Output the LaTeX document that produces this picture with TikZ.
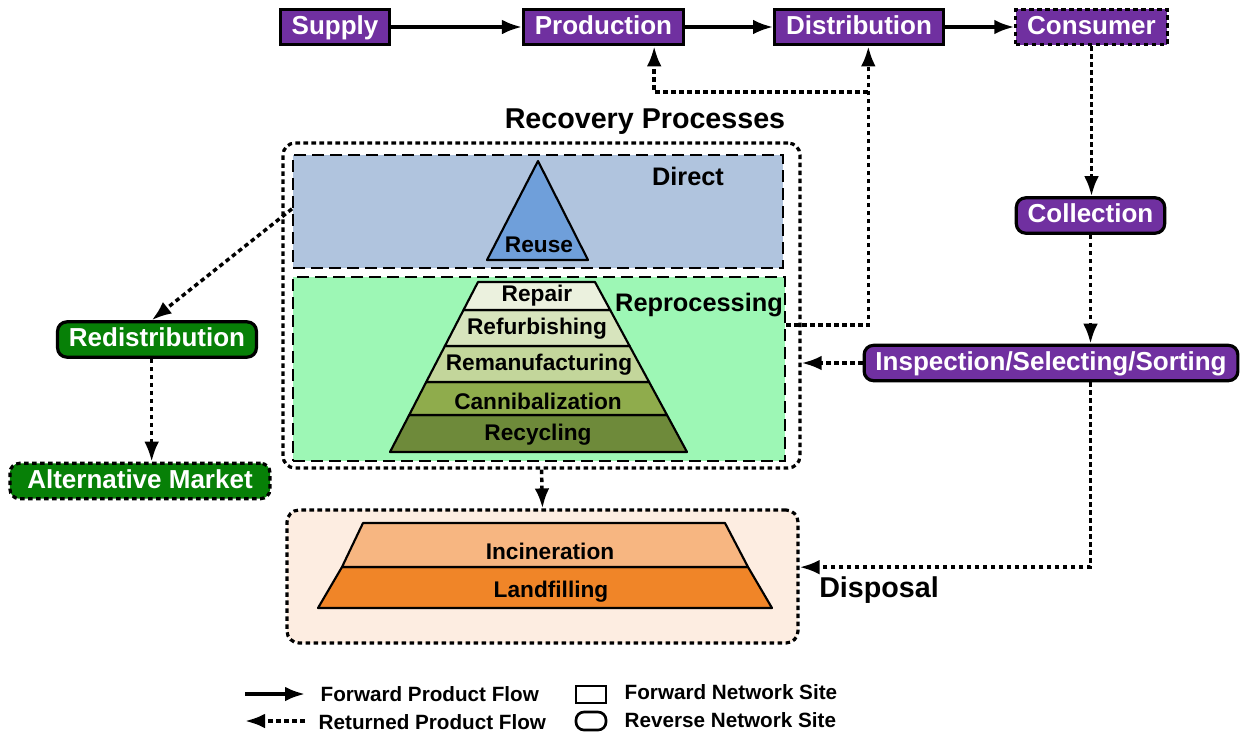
\documentclass[tikz,border=0pt]{standalone}
\usepackage{fontspec}
\setmainfont{Liberation Sans}
\usetikzlibrary{arrows.meta,fit,positioning}

\definecolor{sitepurple}{HTML}{7030A0}
\definecolor{sitegreen}{HTML}{078007}
\definecolor{directfill}{HTML}{B0C4DE}
\definecolor{reusefill}{HTML}{6F9FDA}
\definecolor{reprocfill}{HTML}{9DF7B5}
\definecolor{disposalfill}{HTML}{FDEDE1}
\definecolor{incinfill}{HTML}{F7B681}
\definecolor{landfill}{HTML}{F08528}
\definecolor{layerA}{HTML}{EBF1DE}
\definecolor{layerB}{HTML}{D7E4BD}
\definecolor{layerC}{HTML}{C3D69B}
\definecolor{layerD}{HTML}{8FAC4C}
\definecolor{layerE}{HTML}{6E8A3A}

\begin{document}
\begin{tikzpicture}[x=0.75pt,y=-0.75pt,
        >={Latex[length=15pt,width=11pt]},
        site/.style={draw=black,line width=2.4pt,text=white,
            font=\fontsize{19.5}{20}\selectfont\bfseries,
            inner xsep=8.5pt,inner ysep=5pt,text height=13.5pt,text depth=3pt},
        fwd site/.style={site,fill=sitepurple},
        rev site/.style={site,rounded corners=7pt},
        dotted line/.style={dash pattern=on 3.4pt off 2.6pt},
        fwd flow/.style={->,line width=2.6pt},
        ret flow/.style={->,line width=2.6pt,dotted line},
        zone/.style={draw=black,line width=1.5pt,dash pattern=on 9pt off 4.5pt,inner sep=0pt},
        group/.style={draw=black,line width=2.4pt,dotted line,rounded corners=9pt,inner sep=0pt},
        layer/.style={draw=black,line width=1.6pt,line join=round},
        title/.style={font=\fontsize{21.5}{22}\selectfont\bfseries},
        zone label/.style={font=\fontsize{19}{20}\selectfont\bfseries},
        layer label/.style={font=\fontsize{17}{18}\selectfont\bfseries},
        key label/.style={font=\fontsize{15.5}{16}\selectfont\bfseries,anchor=west}]

        \useasboundingbox (0,0) rectangle (1249,733);

        % Define vertices
        \node[fwd site] (supply) at (335,27) {Supply};
        \node[fwd site] (production) at (603.5,27) {Production};
        \node[fwd site] (distribution) at (859,27) {Distribution};
        \node[fwd site,dotted line] (consumer) at (1091.5,27) {Consumer};
        \node[rev site,fill=sitepurple] (collection) at (1090.5,215.5) {Collection};
        \node[rev site,fill=sitepurple] (inspection) at (1051,363) {Inspection/Selecting/Sorting};
        \node[rev site,fill=sitegreen] (redistribution) at (157,339.5) {Redistribution};
        \node[rev site,fill=sitegreen,dotted line,inner xsep=13pt] (altmarket) at (140,481) {Alternative Market};

        % Recovery processes
        \node[group,fit={(283,143) (800,468)}] (recovery) {};
        \node[title] (recoverylbl) at (645,122) {Recovery Processes};
        \node[zone,fill=directfill,fit={(293,155) (783,268)}] (direct) {};
        \node[zone label] (directlbl) at (688,176) {Direct};
        \draw[layer,fill=reusefill] (538,161) -- (588,260) -- (487,260) -- cycle;
        \node[layer label] (reuse) at (539,245) {Reuse};

        \node[zone,fill=reprocfill,fit={(293,277) (785,461)}] (reprocessing) {};
        \node[zone label] (reproclbl) at (699,305) {Reprocessing};
        \draw[layer,fill=layerE] (409.2,415) -- (667,415) -- (687,452) -- (390,452) -- cycle;
        \draw[layer,fill=layerD] (426.2,382) -- (649.1,382) -- (667,415) -- (409.2,415) -- cycle;
        \draw[layer,fill=layerC] (444.9,346) -- (629.6,346) -- (649.1,382) -- (426.2,382) -- cycle;
        \draw[layer,fill=layerB] (463.5,310) -- (610.2,310) -- (629.6,346) -- (444.9,346) -- cycle;
        \draw[layer,fill=layerA] (478,282) -- (595,282) -- (610.2,310) -- (463.5,310) -- cycle;
        \node[layer label] (repair) at (537,296) {Repair};
        \node[layer label] (refurbishing) at (537,329) {Refurbishing};
        \node[layer label] (reman) at (539,365) {Remanufacturing};
        \node[layer label] (cannibal) at (538,401) {Cannibalization};
        \node[layer label] (recycling) at (538,435) {Recycling};

        % Disposal
        \node[group,fill=disposalfill,fit={(287,510) (798,643)}] (disposal) {};
        \node[title] (disposallbl) at (879,590) {Disposal};
        \draw[layer,fill=landfill] (342,567) -- (748,567) -- (772,608) -- (318,608) -- cycle;
        \draw[layer,fill=incinfill] (363,523) -- (725,523) -- (748,567) -- (342,567) -- cycle;
        \node[layer label] (incineration) at (550,551) {Incineration};
        \node[layer label] (landfilling) at (551,592) {Landfilling};

        % Draw edges
        \draw[fwd flow] (supply) -- (production);
        \draw[fwd flow] (production) -- (distribution);
        \draw[fwd flow] (distribution) -- (consumer);
        \draw[ret flow] (consumer.south) -- (consumer.south |- collection.north);
        \draw[ret flow] (collection.south) -- (collection.south |- inspection.north);
        \draw[ret flow] (inspection.west) -- (inspection.west -| recovery.east);
        \draw[ret flow] (collection.south |- inspection.south) |- ([yshift=7pt]disposal.east);
        \draw[ret flow] ([yshift=33pt]reprocessing.east) -| ([xshift=7pt]distribution.south);
        \coordinate (split) at (868,92);
        \draw[ret flow] (split) -| ([xshift=38pt]production.south);
        \draw[ret flow] ([yshift=2pt]direct.west) -- ([xshift=-4pt]redistribution.north);
        \draw[ret flow] (recovery.south) -- (disposal.north);
        \draw[ret flow] ([xshift=-4pt]redistribution.south) -- ([xshift=-4pt]redistribution.south |- altmarket.north);

        % Legend
        \coordinate (fwdtail) at (245,694);
        \coordinate (fwdhead) at (305,694);
        \coordinate (rettail) at (305,721);
        \coordinate (rethead) at (245,721);
        \draw[fwd flow] (fwdtail) -- (fwdhead);
        \draw[ret flow] (rettail) -- (rethead);
        \node[key label] (fwdflowlbl) at (316,694) {Forward Product Flow};
        \node[key label] (retflowlbl) at (314,722) {Returned Product Flow};
        \node[draw,line width=2pt,minimum width=22.5pt,minimum height=12.75pt,inner sep=0pt] (fwdkey) at (591,694.5) {};
        \node[draw,line width=2pt,rounded corners=6pt,minimum width=22.5pt,minimum height=13.5pt,inner sep=0pt] (revkey) at (591,721) {};
        \node[key label] (fwdsitelbl) at (620,692) {Forward Network Site};
        \node[key label] (revsitelbl) at (620,720) {Reverse Network Site};

\end{tikzpicture}
\end{document}
